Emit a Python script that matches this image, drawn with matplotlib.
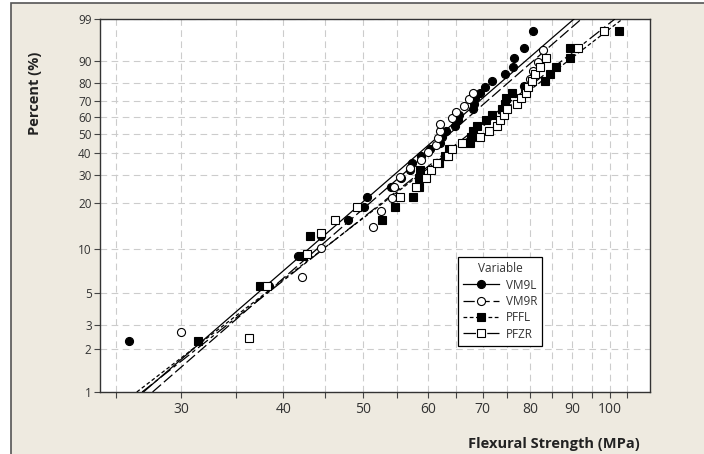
import numpy as np
import matplotlib
matplotlib.use("Agg")
import matplotlib.pyplot as plt
from matplotlib.patches import Rectangle
from matplotlib.ticker import FixedLocator, NullFormatter

plt.rcParams['font.family'] = ['Open Sans', 'DejaVu Sans']

# data (strength in MPa, cumulative percent)
vm9l_mpa = [25.9, 38.4, 41.7, 44.5, 47.9, 50.2, 50.5, 54.1, 55.6, 57.1,
            57.4, 58.8, 60.4, 62.0, 62.4, 63.2, 64.7, 65.2, 65.4, 68.0,
            68.3, 68.5, 69.4, 70.4, 71.8, 74.5, 76.2, 76.4, 78.6, 80.6]
vm9l_pct = [2.3, 5.6, 8.9, 12.2, 15.5, 18.8, 22.0, 25.3, 28.6, 31.9,
            35.2, 38.5, 41.8, 45.1, 48.4, 51.6, 54.9, 58.2, 61.5, 64.8,
            68.1, 71.4, 74.7, 78.0, 81.3, 84.5, 87.8, 91.1, 94.4, 97.7]

vm9r_mpa = [30.0, 42.1, 44.5, 51.4, 52.6, 54.3, 54.5, 55.5, 57.1, 58.8,
            60.0, 61.3, 61.8, 62.1, 62.1, 64.2, 65.0, 66.3, 67.3, 68.0,
            78.5, 79.8, 80.6, 81.8, 82.9]
vm9r_pct = [2.65, 6.4, 10.2, 14.0, 17.8, 21.6, 25.4, 29.2, 33.0, 36.7,
            40.5, 44.3, 48.1, 51.9, 55.7, 59.5, 63.3, 67.0, 70.8, 74.6,
            78.4, 82.2, 86.0, 89.8, 93.6]

pffl_mpa = [31.5, 37.5, 42.2, 43.1, 52.7, 54.7, 57.5, 58.5, 58.5, 58.7,
            61.9, 62.9, 63.7, 67.5, 67.7, 68.0, 68.8, 70.6, 71.8, 73.8,
            74.5, 74.6, 76.0, 78.8, 83.3, 84.5, 85.9, 89.4, 89.4, 102.5]
pffl_pct = vm9l_pct

pfzr_mpa = [36.3, 38.2, 42.7, 44.4, 46.2, 49.2, 55.5, 58.0, 59.6, 60.5,
            61.5, 63.5, 64.2, 66.0, 69.5, 71.3, 72.8, 73.4, 74.2, 74.9,
            77.0, 78.0, 79.0, 79.5, 80.3, 81.0, 82.2, 83.6, 91.4, 98.4]
pfzr_pct = [2.4, 5.6, 9.2, 12.8, 15.5, 18.8, 22.0, 25.3, 28.6, 31.9,
            35.2, 38.5, 41.8, 45.1, 48.4, 51.6, 54.9, 58.2, 61.5, 64.8,
            68.1, 71.4, 74.7, 78.0, 81.3, 84.5, 87.8, 91.1, 94.4, 97.7]

# fitted Weibull lines: strength where each fit crosses 1 % and 99 %
fit_pct = [1, 99]
vm9l_fit = [27.0, 90.4]
vm9r_fit = [27.7, 92.3]
pffl_fit = [26.5, 103.6]
pfzr_fit = [26.9, 101.4]

y_ticks = [1, 2, 3, 5, 10, 20, 30, 40, 50, 60, 70, 80, 90, 99]
x_ticks = [30, 40, 50, 60, 70, 80, 90, 100]
x_minor = [25, 35, 45, 55, 65, 75, 85, 95, 105]


def weib(p):
    p = np.clip(np.asarray(p, dtype=float), 1e-6, 100 - 1e-6) / 100.0
    return np.log(-np.log(1 - p))


def weib_inv(y):
    return 100.0 * (1 - np.exp(-np.exp(np.asarray(y, dtype=float))))


fig = plt.figure(figsize=(7.04, 4.54), dpi=100, facecolor='white')
fig.patches.append(Rectangle((11 / 704, -0.02), 1.0, 1 - 3 / 454 + 0.02,
                             transform=fig.transFigure, facecolor='#EEEAE0',
                             edgecolor='#555555', lw=1.2, zorder=-10))
ax = fig.add_axes([100 / 704, 1 - 392 / 454, 550 / 704, 373 / 454])
ax.set_zorder(5)
ax.set_facecolor('white')

ax.set_xscale('log')
ax.set_yscale('function', functions=(weib, weib_inv))
ax.set_xlim(23.9, 111.9)
ax.set_ylim(1, 99)

series = [
    ('VM9L', vm9l_mpa, vm9l_pct, vm9l_fit, 'o', 'black', (None, None)),
    ('VM9R', vm9r_mpa, vm9r_pct, vm9r_fit, 'o', 'white', (0, (9, 3))),
    ('PFFL', pffl_mpa, pffl_pct, pffl_fit, 's', 'black', (0, (3, 2))),
    ('PFZR', pfzr_mpa, pfzr_pct, pfzr_fit, 's', 'white', (0, (10, 3, 3, 3))),
]

for name, xs, ps, fit, mk, face, dash in series:
    ls = '-' if dash[0] is None else dash
    ax.plot(fit, fit_pct, color='black', lw=0.9, ls=ls, zorder=3)
    ax.plot(xs, ps, ls='none', marker=mk, ms=5.8, mfc=face, mec='black',
            mew=0.8, zorder=4)
    # legend handle
    ax.plot([], [], color='black', lw=0.9, ls=ls, marker=mk, ms=5.8,
            mfc=face, mec='black', mew=0.8, label=name)

ax.xaxis.set_major_locator(FixedLocator(x_ticks))
ax.xaxis.set_minor_locator(FixedLocator(x_minor))
ax.xaxis.set_minor_formatter(NullFormatter())
ax.set_xticklabels([str(v) for v in x_ticks])
ax.yaxis.set_major_locator(FixedLocator(y_ticks))
ax.yaxis.set_minor_locator(FixedLocator([]))
ax.set_yticklabels([str(v) for v in y_ticks])

grid_kw = dict(color='#CCCCCC', lw=0.8, ls=(0, (6, 4)))
ax.grid(True, which='major', **grid_kw)
ax.grid(True, which='minor', axis='x', **grid_kw)
ax.set_axisbelow(True)

ax.tick_params(axis='x', which='both', length=4, width=0.8, color='#444444',
               labelsize=10, labelcolor='#333333', pad=3)
ax.tick_params(axis='y', length=4, width=0.8, color='#444444',
               labelsize=8.5, labelcolor='#333333', pad=2)
for s in ax.spines.values():
    s.set_color('#333333')
    s.set_linewidth(1.0)

ax.set_ylabel('Percent (%)', fontsize=10.5, fontweight='bold', color='#222222')
ax.yaxis.set_label_coords(-0.105, 0.8)
ax.set_xlabel('Flexural Strength (MPa)', fontsize=10.5, fontweight='bold',
              color='#222222', loc='right')
ax.xaxis.set_label_coords(0.982, -0.12)

leg = ax.legend(title='Variable', loc='lower left', bbox_to_anchor=(0.64, 0.108),
                fontsize=8.5, title_fontsize=8.5, frameon=True, fancybox=False,
                edgecolor='black', framealpha=1, handlelength=3.0,
                labelspacing=0.28, borderpad=0.45, handletextpad=0.6)
leg.get_frame().set_linewidth(0.9)
leg.get_title().set_color('#333333')
for t in leg.get_texts():
    t.set_color('#333333')

fig.savefig('out.png', dpi=100)
